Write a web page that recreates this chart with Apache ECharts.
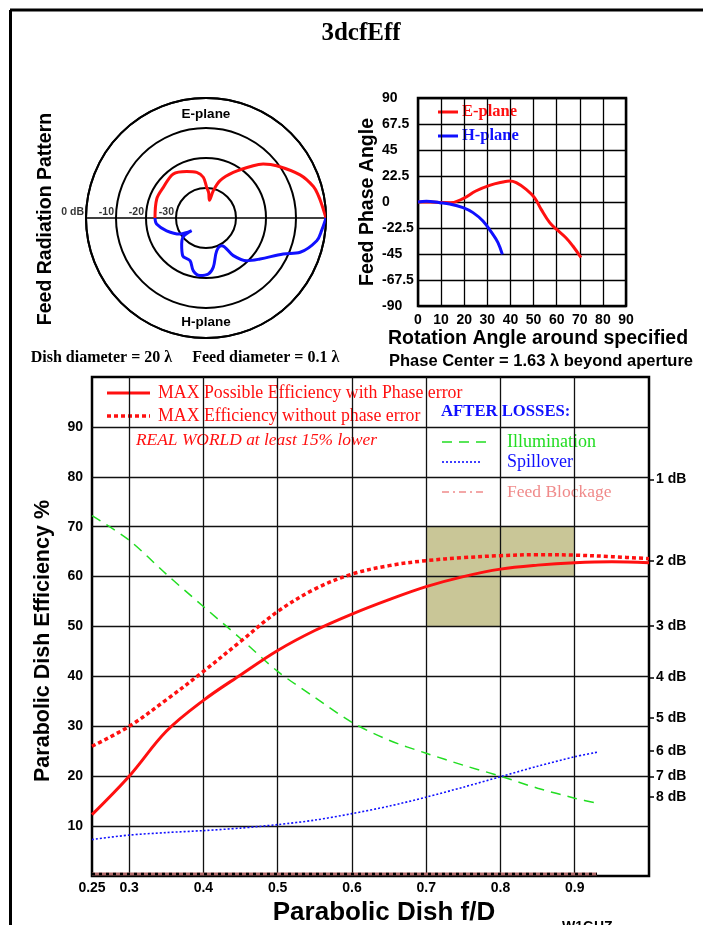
<!DOCTYPE html>
<html>
<head>
<meta charset="utf-8">
<script src="https://cdn.jsdelivr.net/npm/echarts@6/dist/echarts.min.js"></script>
<style>
  html, body { margin: 0; padding: 0; background: #ffffff; }
  #chart { width: 703px; height: 925px; }
</style>
</head>
<body>
<div id="chart"></div>
<script>
// ---------- Feed radiation pattern (dB relative to boresight) ----------
const ePlaneAngle = [0, 6.9, 11.2, 16.3, 24.6, 36.5, 43.3, 47.9, 59.1, 69.4, 75, 79, 84, 88.7, 93.8, 101.5, 112.5, 126.6, 144.4, 158.9, 180];
const ePlaneGain  = [0, -1.2, -1.8, -2.7, -5.5, -10.7, -13.8, -16.5, -22.3, -26.7, -30.6, -34, -31.5, -29.8, -26.4, -24.5, -23.2, -21.7, -22.5, -22.4, -23];
// H-plane angles are measured downward from boresight
const hPlaneAngle = [0, 6, 11.6, 20, 25, 37.2, 46.4, 54, 60.5, 71.9, 81.6, 87.6, 96, 103.5, 110.5, 121.7, 133, 140.5, 138.4, 148.4, 162, 173, 180];
const hPlaneGain  = [0, -1.2, -2.3, -6.6, -11.6, -17.4, -20.3, -24.5, -29.4, -28.5, -23.4, -21.3, -20.7, -21.9, -24.8, -25.2, -28.1, -30.2, -33.6, -29.8, -26.2, -23.4, -23];
const ringValues = [0, -10, -20, -30];
const ringLabels = ['0 dB', '-10', '-20', '-30'];

// ---------- Feed phase angle vs rotation angle ----------
const phaseAngleE = [0, 5, 10, 14, 19.5, 25, 31, 36.7, 39.6, 42.5, 46.8, 50.4, 53.3, 57, 60, 64, 67, 70.5];
const phaseE      = [0, 0, -0.4, -0.6, 2.9, 9.5, 14.4, 17.3, 18.2, 16.8, 11, 3.8, -6.4, -17.9, -23.7, -30.9, -38.1, -48];
const phaseAngleH = [0, 3.6, 9.4, 13.7, 19.5, 23.8, 28.1, 32.4, 34.6, 36.5];
const phaseH      = [0, 0.6, -0.6, -1.7, -4.9, -9.2, -16.5, -28, -35.2, -45.3];

// ---------- Dish efficiency vs f/D ----------
const fdValues     = [0.25, 0.3, 0.35, 0.4, 0.45, 0.5, 0.55, 0.6, 0.65, 0.7, 0.75, 0.8, 0.85, 0.9, 0.95, 1.0];
const effWithPhase = [12.3, 20, 29, 35.2, 40.3, 45.2, 49.2, 52.5, 55.4, 58, 60, 61.5, 62.3, 62.8, 63, 62.8];
const effNoPhase   = [26, 30, 35.3, 41, 47, 53, 57.5, 60.5, 62.2, 63.2, 63.8, 64.2, 64.4, 64.3, 64, 63.6];
const fdLossValues = [0.25, 0.3, 0.35, 0.4, 0.45, 0.5, 0.55, 0.6, 0.65, 0.7, 0.75, 0.8, 0.85, 0.9, 0.93];
const illumination = [72.2, 67.3, 60.5, 54, 47.6, 41, 35.8, 30.8, 27.2, 24.6, 22.2, 20, 17.6, 15.6, 14.6];
const spillover    = [7.3, 8.2, 8.7, 9.1, 9.6, 10.3, 11.2, 12.5, 14, 15.8, 17.8, 19.9, 22, 23.9, 24.8];
const feedBlockage = [0.4, 0.4, 0.4, 0.4, 0.4, 0.4, 0.4, 0.4, 0.4, 0.4, 0.4, 0.4, 0.4, 0.4, 0.4];

const fdTickValues  = [0.25, 0.3, 0.4, 0.5, 0.6, 0.7, 0.8, 0.9];
const fdTickLabels  = ['0.25', '0.3', '0.4', '0.5', '0.6', '0.7', '0.8', '0.9'];
const effTickValues = [10, 20, 30, 40, 50, 60, 70, 80, 90];
const dbLevels      = [1, 2, 3, 4, 5, 6, 7, 8];
const fdGridValues  = [0.3, 0.4, 0.5, 0.6, 0.7, 0.8, 0.9];
const effGridValues = [10, 20, 30, 40, 50, 60, 70, 80, 90];
// preferred region: [fd from, fd to, eff from, eff to]
const sweetSpot = [[0.7, 0.9, 60, 70], [0.7, 0.8, 50, 60]];

const dbToPercent = db => 100 * Math.pow(10, -db / 10);
const dbValues = dbLevels.map(dbToPercent);
const zip = (xs, ys) => xs.map((x, i) => [x, ys[i]]);
const nearestIndex = (list, v) => {
  let best = 0;
  list.forEach((t, i) => { if (Math.abs(t - v) < Math.abs(list[best] - v)) best = i; });
  return best;
};

const SANS = '"Liberation Sans", Arial, sans-serif';
const SERIF = '"Liberation Serif", "Times New Roman", serif';
const RED = '#ff1010';
const BLUE = '#1010ff';
const GREEN = '#22dd22';
const PINK = '#f08a8a';

const chart = echarts.init(document.getElementById('chart'), null, { renderer: 'canvas' });

const boldLabel = { color: '#000', fontFamily: SANS, fontWeight: 'bold', fontSize: 14 };

function legendLine(x1, x2, y, color, width, dash) {
  return {
    type: 'line', shape: { x1: x1, y1: y, x2: x2, y2: y },
    style: { stroke: color, lineWidth: width, lineDash: dash || null }, silent: true
  };
}
function legendText(x, y, text, color, font, align) {
  return {
    type: 'text', style: { x: x, y: y, text: text, fill: color, font: font,
      textAlign: align || 'left', textVerticalAlign: 'middle' }, silent: true
  };
}
function verticalText(x, y, text, font) {
  return {
    type: 'text', x: x, y: y, rotation: Math.PI / 2, silent: true,
    style: { x: 0, y: 0, text: text, fill: '#000', font: font, textAlign: 'center', textVerticalAlign: 'middle' }
  };
}

const option = {
  animation: false,
  backgroundColor: '#ffffff',
  polar: { center: [206, 218], radius: 120 },
  angleAxis: {
    type: 'value', min: 0, max: 360, interval: 180, startAngle: 0, clockwise: false,
    axisLine: { show: true, lineStyle: { color: '#000', width: 2 } },
    axisTick: { show: false }, axisLabel: { show: false },
    splitLine: { show: true, lineStyle: { color: '#000', width: 1.5 } }
  },
  radiusAxis: {
    type: 'value', min: -40, max: 0, interval: 10,
    axisLine: { show: false }, axisTick: { show: false }, axisLabel: { show: false },
    splitLine: { show: true, lineStyle: { color: '#000', width: 2 } }
  },
  grid: [
    { left: 418, top: 98, width: 208, height: 208, show: true, borderColor: '#000', borderWidth: 2.5,
      backgroundColor: 'transparent', outerBoundsMode: 'none', containLabel: false },
    { left: 92, top: 377, width: 557, height: 499, show: true, borderColor: '#000', borderWidth: 2.5,
      backgroundColor: 'transparent', outerBoundsMode: 'none', containLabel: false }
  ],
  xAxis: [
    {
      gridIndex: 0, type: 'value', min: 0, max: 90, interval: 10,
      axisLine: { show: false }, axisTick: { show: false },
      axisLabel: Object.assign({ margin: 7 }, boldLabel),
      splitLine: { show: true, lineStyle: { color: '#000', width: 1.3 } }
    },
    {
      gridIndex: 1, type: 'value', min: 0.25, max: 1.0,
      axisLine: { show: false }, axisTick: { show: false },
      axisLabel: Object.assign({
        margin: 5, customValues: fdTickValues,
        formatter: v => fdTickLabels[nearestIndex(fdTickValues, v)]
      }, boldLabel),
      splitLine: { show: false }
    }
  ],
  yAxis: [
    {
      gridIndex: 0, type: 'value', min: -90, max: 90, interval: 22.5,
      axisLine: { show: false }, axisTick: { show: false },
      axisLabel: Object.assign({ margin: 36, align: 'left' }, boldLabel),
      splitLine: { show: true, lineStyle: { color: '#000', width: 1.3 } },
      name: 'Feed Phase Angle', nameLocation: 'middle', nameRotate: 90, nameGap: 40,
      nameTextStyle: { color: '#000', fontFamily: SANS, fontWeight: 'bold', fontSize: 19.5 }
    },
    {
      gridIndex: 1, type: 'value', min: 0, max: 100, interval: 10,
      axisLine: { show: false }, axisTick: { show: false },
      axisLabel: Object.assign({ margin: 9, customValues: effTickValues }, boldLabel),
      splitLine: { show: false }
    },
    {
      gridIndex: 1, type: 'value', min: 0, max: 100, position: 'right',
      axisLine: { show: false },
      axisTick: { show: true, length: 5, customValues: dbValues, lineStyle: { color: '#000', width: 1.5 } },
      axisLabel: Object.assign({
        margin: 7, customValues: dbValues,
        formatter: v => dbLevels[nearestIndex(dbValues, v)] + ' dB'
      }, boldLabel),
      splitLine: { show: false }
    }
  ],
  series: [
    // radiation pattern
    {
      name: 'E-plane pattern', type: 'line', coordinateSystem: 'polar', smooth: 0.35, showSymbol: false,
      data: ePlaneAngle.map((a, i) => [ePlaneGain[i], a]),
      lineStyle: { color: RED, width: 3 }, z: 3
    },
    {
      name: 'H-plane pattern', type: 'line', coordinateSystem: 'polar', smooth: 0.35, showSymbol: false,
      data: hPlaneAngle.map((a, i) => [hPlaneGain[i], 360 - a]),
      lineStyle: { color: BLUE, width: 3 }, z: 3
    },
    {
      name: 'ring labels', type: 'scatter', coordinateSystem: 'polar', symbolSize: 0, silent: true,
      data: ringValues.map(r => [r, 180]),
      label: {
        show: true, position: 'left', distance: 2, offset: [0, -6],
        formatter: p => ringLabels[p.dataIndex],
        color: '#000', fontFamily: SANS, fontWeight: 'bold', fontSize: 10.5
      }
    },
    // feed phase
    {
      name: 'E-plane phase', type: 'line', xAxisIndex: 0, yAxisIndex: 0, smooth: 0.4, showSymbol: false,
      data: zip(phaseAngleE, phaseE), lineStyle: { color: RED, width: 3 }, z: 3
    },
    {
      name: 'H-plane phase', type: 'line', xAxisIndex: 0, yAxisIndex: 0, smooth: 0.4, showSymbol: false,
      data: zip(phaseAngleH, phaseH), lineStyle: { color: BLUE, width: 3 }, z: 4
    },
    // preferred f/D region
    {
      name: 'region', type: 'line', xAxisIndex: 1, yAxisIndex: 1, data: [], silent: true,
      markArea: {
        silent: true, z: 1, itemStyle: { color: '#c9c697', opacity: 1 },
        data: sweetSpot.map(b => [{ xAxis: b[0], yAxis: b[2] }, { xAxis: b[1], yAxis: b[3] }])
      }
    },
    // grid lines of the efficiency plot
    {
      name: 'grid', type: 'line', xAxisIndex: 1, yAxisIndex: 1, data: [], silent: true,
      markLine: {
        silent: true, z: 2, symbol: ['none', 'none'], label: { show: false },
        lineStyle: { color: '#111', width: 1.3, type: 'solid' },
        emphasis: { disabled: true },
        data: fdGridValues.map(v => ({ xAxis: v })).concat(effGridValues.map(v => ({ yAxis: v })))
      }
    },
    {
      name: 'Illumination', type: 'line', xAxisIndex: 1, yAxisIndex: 1, smooth: 0.3, showSymbol: false,
      data: zip(fdLossValues, illumination), lineStyle: { color: GREEN, width: 1.5, type: [10, 7] }, z: 3
    },
    {
      name: 'Spillover', type: 'line', xAxisIndex: 1, yAxisIndex: 1, smooth: 0.3, showSymbol: false,
      data: zip(fdLossValues, spillover), lineStyle: { color: BLUE, width: 1.6, type: [2, 2] }, z: 3
    },
    {
      name: 'Feed Blockage', type: 'line', xAxisIndex: 1, yAxisIndex: 1, showSymbol: false,
      data: zip(fdLossValues, feedBlockage), lineStyle: { color: '#b06a6a', width: 3 }, z: 3
    },
    {
      name: 'Feed Blockage marks', type: 'line', xAxisIndex: 1, yAxisIndex: 1, showSymbol: false,
      data: zip(fdLossValues, feedBlockage), lineStyle: { color: '#000', width: 2.5, type: [3, 4] }, z: 3
    },
    {
      name: 'MAX Efficiency without phase error', type: 'line', xAxisIndex: 1, yAxisIndex: 1, smooth: 0.35, showSymbol: false,
      data: zip(fdValues, effNoPhase), lineStyle: { color: RED, width: 3.5, type: [4, 3] }, z: 4
    },
    {
      name: 'MAX Possible Efficiency with Phase error', type: 'line', xAxisIndex: 1, yAxisIndex: 1, smooth: 0.35, showSymbol: false,
      data: zip(fdValues, effWithPhase), lineStyle: { color: RED, width: 3 }, z: 4
    }
  ],
  graphic: [
    // page frame
    { type: 'line', shape: { x1: 10, y1: 10, x2: 703, y2: 10 }, style: { stroke: '#000', lineWidth: 3 }, silent: true },
    { type: 'line', shape: { x1: 10.5, y1: 10, x2: 10.5, y2: 925 }, style: { stroke: '#000', lineWidth: 3 }, silent: true },
    legendText(361, 34, '3dcfEff', '#000', 'bold 25px ' + SERIF, 'center'),

    // radiation pattern captions
    verticalText(46, 219, 'Feed Radiation Pattern', 'bold 19.5px ' + SANS),
    legendText(206, 114, 'E-plane', '#000', 'bold 13.5px ' + SANS, 'center'),
    legendText(206, 322, 'H-plane', '#000', 'bold 13.5px ' + SANS, 'center'),
    legendText(185, 358, 'Dish diameter = 20 \u03bb     Feed diameter = 0.1 \u03bb', '#000', 'bold 16px ' + SERIF, 'center'),

    // phase plot legend and captions
    legendLine(438, 458, 112, RED, 3),
    legendText(462, 112, 'E-plane', RED, 'bold 16.5px ' + SERIF),
    legendLine(438, 458, 136, BLUE, 3),
    legendText(462, 136, 'H-plane', BLUE, 'bold 16.5px ' + SERIF),
    legendText(538, 339, 'Rotation Angle around specified', '#000', 'bold 19.5px ' + SANS, 'center'),
    legendText(541, 361, 'Phase Center = 1.63 \u03bb beyond aperture', '#000', 'bold 16.5px ' + SANS, 'center'),

    // efficiency plot captions and legend
    verticalText(43, 641, 'Parabolic Dish Efficiency %', 'bold 21.5px ' + SANS),
    legendText(384, 913, 'Parabolic Dish f/D', '#000', 'bold 26px ' + SANS, 'center'),
    legendLine(107, 150, 393, RED, 3),
    legendText(158, 393, 'MAX Possible Efficiency with Phase error', RED, '17.8px ' + SERIF),
    legendLine(107, 150, 416, RED, 3.5, [4, 3]),
    legendText(158, 416, 'MAX Efficiency without phase error', RED, '17.8px ' + SERIF),
    legendText(136, 440, 'REAL WORLD at least 15% lower', RED, 'italic 17.4px ' + SERIF),
    legendText(441, 412, 'AFTER LOSSES:', BLUE, 'bold 16.7px ' + SERIF),
    legendLine(442, 486, 442, GREEN, 1.5, [10, 7]),
    legendText(507, 442, 'Illumination', GREEN, '18px ' + SERIF),
    legendLine(442, 482, 462, BLUE, 1.6, [2, 2]),
    legendText(507, 462, 'Spillover', BLUE, '18px ' + SERIF),
    legendLine(442, 486, 492, PINK, 1.5, [7, 4, 2, 4]),
    legendText(507, 492, 'Feed Blockage', PINK, '17.5px ' + SERIF),

    legendText(562, 927, 'W1GHZ', '#000', 'bold 14px ' + SANS)
  ]
};

chart.setOption(option);
</script>
</body>
</html>
